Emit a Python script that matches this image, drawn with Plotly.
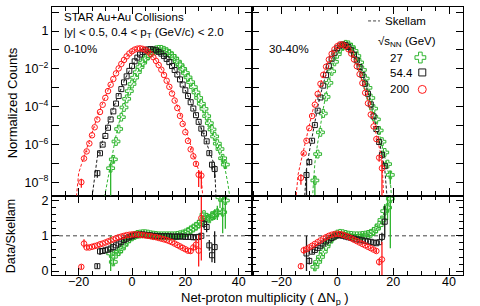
import plotly.graph_objects as go

# ---------------- data ----------------
# Each series: first net-proton bin, Skellam reference (log10 of normalized counts),
# measured Data/Skellam ratio and its error (None = no measured point in that bin).

# 0-10% centrality
c010_200_x0 = -21
c010_200_skellam_log = [-9.0, -7.51, -7.07, -6.63, -6.19, -5.77, -5.35, -4.94, -4.54, -4.16, -3.79, -3.44,
                        -3.10, -2.78, -2.49, -2.21, -1.96, -1.73, -1.53, -1.35, -1.20, -1.09, -1.00, -0.95,
                        -0.93, -0.95, -1.00, -1.09, -1.22, -1.37, -1.56, -1.77, -2.01, -2.28, -2.57, -2.88,
                        -3.22, -3.57, -3.94, -4.33, -4.73, -5.14, -5.57, -6.01, -6.45, -6.90, -7.36, -7.82, -9.5]
c010_200_ratio = [None, None, 0.12, 0.78, 0.67, 0.67, 0.69, 0.71, 0.73, 0.76, 0.78, 0.81, 0.84, 0.87, 0.90,
                  0.93, 0.96, 0.98, 1.00, 1.02, 1.03, 1.04, 1.04, 1.04, 1.03, 1.02, 1.01, 1.00, 0.99, 0.97,
                  0.96, 0.94, 0.92, 0.90, 0.88, 0.85, 0.82, 0.78, 0.74, 0.70, 0.66, 0.62, 0.58, 0.57, 0.67,
                  0.75, 0.58, 1.50, None]
c010_200_err = [None, None, 0.06, 0.12, 0.06, 0.04, 0.03, 0.02, 0.02, 0.01, 0.01, 0.01, 0.01, 0.01, 0.01,
                0.01, 0.01, 0.01, 0.01, 0.01, 0.01, 0.01, 0.01, 0.01, 0.01, 0.01, 0.01, 0.01, 0.01, 0.01,
                0.01, 0.01, 0.01, 0.01, 0.01, 0.01, 0.01, 0.02, 0.02, 0.03, 0.03, 0.04, 0.05, 0.07, 0.09,
                0.15, 0.45, 1.20, None]

c010_544_x0 = -15
c010_544_skellam_log = [-8.8, -7.6, -6.66, -6.21, -5.76, -5.32, -4.90, -4.48, -4.08, -3.70, -3.33, -2.99,
                        -2.66, -2.36, -2.09, -1.84, -1.61, -1.42, -1.26, -1.13, -1.04, -0.98, -0.96, -0.98,
                        -1.02, -1.10, -1.19, -1.32, -1.47, -1.64, -1.84, -2.05, -2.29, -2.55, -2.82, -3.12,
                        -3.42, -3.75, -4.08, -4.43, -4.79, -5.16, -5.54, -5.93, -6.32, -6.72, -7.13, -10.5]
c010_544_ratio = [None, None, 0.14, 0.56, 0.57, 0.59, 0.61, 0.64, 0.68, 0.73, 0.78, 0.83, 0.88, 0.92, 0.96,
                  0.99, 1.02, 1.03, 1.04, 1.04, 1.03, 1.02, 1.01, 1.00, 1.00, 0.99, 0.99, 0.99, 0.99, 0.99,
                  0.98, 0.98, 0.98, 0.98, 0.98, 0.97, 0.97, 0.97, 0.96, 0.96, 0.97, 1.00, 1.34, 1.25, 0.73,
                  0.45, 0.68, None]
c010_544_err = [None, None, 0.06, 0.10, 0.05, 0.04, 0.03, 0.02, 0.01, 0.01, 0.01, 0.01, 0.01, 0.01, 0.01,
                0.01, 0.01, 0.01, 0.01, 0.01, 0.01, 0.01, 0.01, 0.01, 0.01, 0.01, 0.01, 0.01, 0.01, 0.01,
                0.01, 0.01, 0.01, 0.01, 0.01, 0.01, 0.02, 0.02, 0.03, 0.04, 0.08, 0.10, 0.12, 0.15, 0.15,
                0.20, 0.45, None]

c010_27_x0 = -11
c010_27_skellam_log = [-9.3, -8.5, -7.75, -6.95, -6.20, -5.52, -4.92, -4.36, -3.91, -3.51, -3.14, -2.79,
                       -2.47, -2.19, -1.93, -1.70, -1.49, -1.32, -1.17, -1.07, -1.00, -0.97, -0.97, -1.02,
                       -1.09, -1.18, -1.31, -1.45, -1.62, -1.81, -2.02, -2.25, -2.50, -2.77, -3.05, -3.35,
                       -3.66, -3.99, -4.32, -4.68, -5.04, -5.40, -5.78, -6.17, -6.56, -6.95, -7.36, -8.1, -9.1]
c010_27_ratio = [None, None, None, 0.50, 0.26, 0.48, 0.55, 0.64, 0.74, 0.84, 0.92, 0.97, 1.01, 1.04, 1.05,
                 1.06, 1.06, 1.05, 1.03, 1.02, 1.01, 1.00, 1.00, 1.00, 1.00, 1.00, 1.00, 1.00, 1.01, 1.03,
                 1.05, 1.08, 1.12, 1.17, 1.22, 1.27, 1.33, 1.40, 1.60, 1.52, 1.48, 1.57, 1.60, 1.65, 2.09,
                 1.67, 2.00, None, None]
c010_27_err = [None, None, None, 0.50, 0.10, 0.06, 0.04, 0.03, 0.02, 0.02, 0.01, 0.01, 0.01, 0.01, 0.01,
               0.01, 0.01, 0.01, 0.01, 0.01, 0.01, 0.01, 0.01, 0.01, 0.01, 0.01, 0.01, 0.01, 0.01, 0.01,
               0.01, 0.01, 0.02, 0.02, 0.03, 0.03, 0.04, 0.05, 0.07, 0.08, 0.10, 0.12, 0.15, 0.20, 0.30,
               0.60, 0.80, None, None]

# 30-40% centrality
c3040_200_x0 = -15
c3040_200_skellam_log = [-9.2, -7.58, -6.91, -6.24, -5.59, -4.96, -4.35, -3.78, -3.24, -2.73, -2.28, -1.87,
                         -1.51, -1.22, -0.99, -0.83, -0.73, -0.73, -0.80, -0.95, -1.16, -1.45, -1.79, -2.19,
                         -2.64, -3.13, -3.66, -4.23, -4.83, -5.47, -6.11, -6.77, -10.0]
c3040_200_ratio = [None, None, 0.14, 0.59, 0.62, 0.67, 0.72, 0.77, 0.82, 0.87, 0.92, 0.96, 1.00, 1.03, 1.05,
                   1.06, 1.05, 1.03, 1.00, 0.97, 0.93, 0.89, 0.85, 0.81, 0.77, 0.73, 0.69, 0.65, 0.61, 0.57,
                   0.26, 0.33, None]
c3040_200_err = [None, None, 0.08, 0.10, 0.05, 0.04, 0.03, 0.02, 0.01, 0.01, 0.01, 0.01, 0.01, 0.01, 0.01,
                 0.01, 0.01, 0.01, 0.01, 0.01, 0.01, 0.01, 0.01, 0.01, 0.01, 0.02, 0.02, 0.03, 0.04, 0.06,
                 0.10, 0.50, None]

c3040_544_x0 = -12
c3040_544_skellam_log = [-9.5, -7.31, -6.39, -5.54, -4.75, -4.03, -3.37, -2.78, -2.26, -1.81, -1.44, -1.14,
                         -0.92, -0.78, -0.72, -0.74, -0.83, -0.99, -1.22, -1.51, -1.85, -2.26, -2.72, -3.24,
                         -3.80, -4.42, -5.08, -5.78, -6.53, -7.29, -9.1]
c3040_544_ratio = [None, 0.50, 0.29, 0.55, 0.60, 0.66, 0.72, 0.78, 0.84, 0.89, 0.94, 0.98, 1.01, 1.02, 1.00,
                   0.98, 0.96, 0.94, 0.92, 0.90, 0.89, 0.87, 0.86, 0.84, 0.83, 0.81, 0.79, 0.82, 0.97, 1.40,
                   None]
c3040_544_err = [None, 0.50, 0.10, 0.06, 0.04, 0.03, 0.02, 0.01, 0.01, 0.01, 0.01, 0.01, 0.01, 0.01, 0.01,
                 0.01, 0.01, 0.01, 0.01, 0.01, 0.01, 0.01, 0.01, 0.01, 0.02, 0.02, 0.03, 0.05, 0.12, 0.45,
                 None]

c3040_27_x0 = -9
c3040_27_skellam_log = [-9.1, -6.98, -5.92, -4.96, -4.10, -3.33, -2.66, -2.10, -1.63, -1.25, -0.98, -0.80,
                        -0.72, -0.74, -0.85, -1.05, -1.32, -1.66, -2.06, -2.52, -3.02, -3.57, -4.15, -4.75,
                        -5.37, -6.01, -6.65, -7.29, -7.92, -10.0]
c3040_27_ratio = [None, 0.12, 0.26, 0.40, 0.55, 0.70, 0.83, 0.93, 1.00, 1.05, 1.07, 1.06, 1.04, 1.02, 1.01,
                  1.00, 1.00, 1.00, 1.01, 1.02, 1.04, 1.07, 1.12, 1.20, 1.30, 1.45, 1.70, 1.80, 2.05, None]
c3040_27_err = [None, 0.10, 0.05, 0.04, 0.03, 0.02, 0.01, 0.01, 0.01, 0.01, 0.01, 0.01, 0.01, 0.01, 0.01,
                0.01, 0.01, 0.01, 0.01, 0.01, 0.01, 0.01, 0.02, 0.03, 0.05, 0.10, 0.20, 0.35, 1.40, None]

energies = ["27", "54.4", "200"]
centralities = ["0-10%", "30-40%"]
x_ticks = [-20, 0, 20, 40]

# ---------------- styles ----------------
FONT = "Liberation Sans, Arial, Helvetica, sans-serif"
STYLE = {
    "27": dict(color="#2fb52f", symbol="cross-open", size=6.5, key=9),
    "54.4": dict(color="#1a1a1a", symbol="square-open", size=5, key=7),
    "200": dict(color="#ff1a1a", symbol="circle-open", size=5.5, key=8),
}
series = {
    ("0-10%", "27"): (c010_27_x0, c010_27_skellam_log, c010_27_ratio, c010_27_err),
    ("0-10%", "54.4"): (c010_544_x0, c010_544_skellam_log, c010_544_ratio, c010_544_err),
    ("0-10%", "200"): (c010_200_x0, c010_200_skellam_log, c010_200_ratio, c010_200_err),
    ("30-40%", "27"): (c3040_27_x0, c3040_27_skellam_log, c3040_27_ratio, c3040_27_err),
    ("30-40%", "54.4"): (c3040_544_x0, c3040_544_skellam_log, c3040_544_ratio, c3040_544_err),
    ("30-40%", "200"): (c3040_200_x0, c3040_200_skellam_log, c3040_200_ratio, c3040_200_err),
}
# axes ids: (top, bottom) per centrality
AXES = {"0-10%": (("x3", "y3"), ("x", "y")), "30-40%": (("x4", "y4"), ("x2", "y2"))}

fig = go.Figure()

for cent in centralities:
    (tx, ty), (bx, by) = AXES[cent]
    for en in energies:
        x0, sk, ratio, err = series[(cent, en)]
        st = STYLE[en]
        xs = list(range(x0, x0 + len(sk)))
        sk_y = [10 ** s for s in sk]
        # Skellam reference (dashed)
        fig.add_trace(go.Scatter(x=xs, y=sk_y, mode="lines", xaxis=tx, yaxis=ty,
                                 line=dict(color=st["color"], width=1, dash="3px,2px"),
                                 hoverinfo="skip"))
        px, py, pe, pm, rr, re = [], [], [], [], [], []
        for x, s, r, e in zip(xs, sk_y, ratio, err):
            if r is None:
                continue
            y = s * r
            px.append(x)
            py.append(y)
            pe.append(s * e)
            pm.append(min(s * e, 0.9999 * y))
            rr.append(r)
            re.append(e)
        mk = dict(symbol=st["symbol"], size=st["size"], color=st["color"], line=dict(width=1, color=st["color"]))
        fig.add_trace(go.Scatter(x=px, y=py, mode="markers", xaxis=tx, yaxis=ty, marker=mk,
                                 error_y=dict(type="data", symmetric=False, array=pe, arrayminus=pm,
                                              width=0, thickness=1.3, color=st["color"])))
        fig.add_trace(go.Scatter(x=px, y=rr, mode="markers", xaxis=bx, yaxis=by, marker=mk,
                                 error_y=dict(type="data", array=re, width=0, thickness=1.3,
                                              color=st["color"])))

# legend keys (positioned in the top-right panel's unit square)
LEG_KEYS = {"27": (0.798, 0.732), "54.4": (0.807, 0.653), "200": (0.807, 0.563)}
for en in energies:
    st = STYLE[en]
    fig.add_trace(go.Scatter(x=[LEG_KEYS[en][0]], y=[LEG_KEYS[en][1]], mode="markers",
                             xaxis="x5", yaxis="y5",
                             marker=dict(symbol=st["symbol"], size=st["key"], color=st["color"],
                                         line=dict(width=1, color=st["color"]))))

# ---------------- layout ----------------
XL = [0, 0.4866]
XR = [0.4866, 1]
YB = [0, 0.2963]
YT = [0.2963, 1]

base = dict(showline=True, linecolor="black", linewidth=1.3, mirror="allticks", ticks="inside",
            ticklen=7, tickwidth=1, tickcolor="black", showgrid=False, zeroline=False,
            tickfont=dict(family=FONT, size=12.5, color="black"))
xminor = dict(dtick=5, tick0=0, ticks="inside", ticklen=4, tickcolor="black", showgrid=False)
yminor = dict(dtick=0.2, tick0=0, ticks="inside", ticklen=4, tickcolor="black", showgrid=False)

log_vals = [10.0 ** k for k in (0, -2, -4, -6, -8)]
log_text = ["1", "10<sup>\u22122</sup>", "10<sup>\u22124</sup>", "10<sup>\u22126</sup>", "10<sup>\u22128</sup>"]
log_minor = dict(tickmode="array", tickvals=[10.0 ** k for k in (1, -1, -3, -5, -7)],
                 ticks="inside", ticklen=7, tickcolor="black", showgrid=False)

fig.update_layout(
    width=480, height=306,
    margin=dict(l=52, r=17, t=5, b=31),
    paper_bgcolor="white", plot_bgcolor="rgba(0,0,0,0)",
    showlegend=False,
    font=dict(family=FONT, size=12, color="black"),
    xaxis=dict(base, domain=XL, anchor="y", range=[-30, 45], tickvals=x_ticks, minor=xminor,
               ticklabelstandoff=-5),
    yaxis=dict(base, domain=YB, anchor="x", range=[-0.11, 2.14], dtick=1, tick0=0, minor=yminor),
    xaxis2=dict(base, domain=XR, anchor="y2", range=[-30.5, 45], tickvals=x_ticks, minor=xminor,
                ticklabelstandoff=-5),
    yaxis2=dict(base, domain=YB, anchor="x2", range=[-0.11, 2.14], dtick=1, tick0=0, minor=yminor,
                showticklabels=False),
    xaxis3=dict(base, domain=XL, anchor="y3", range=[-30, 45], tickvals=x_ticks, minor=xminor,
                showticklabels=False),
    yaxis3=dict(base, domain=YT, anchor="x3", type="log", range=[-8.7, 1.27],
                tickmode="array", tickvals=log_vals, ticktext=log_text, minor=log_minor),
    xaxis4=dict(base, domain=XR, anchor="y4", range=[-30.5, 45], tickvals=x_ticks, minor=xminor,
                showticklabels=False),
    yaxis4=dict(base, domain=YT, anchor="x4", type="log", range=[-8.7, 1.27],
                tickmode="array", tickvals=log_vals, ticktext=log_text, minor=log_minor,
                showticklabels=False),
    xaxis5=dict(overlaying="x4", anchor="y5", range=[0, 1], visible=False),
    yaxis5=dict(overlaying="y4", anchor="x5", range=[0, 1], visible=False),
)

# reference line at ratio 1 across both lower panels
fig.add_shape(type="line", xref="paper", yref="y", x0=0, x1=1, y0=1, y1=1,
              line=dict(color="#444444", width=1, dash="4px,3px"), layer="below")
# Skellam legend key line
fig.add_shape(type="line", xref="paper", yref="paper", x0=0.769, x1=0.798, y0=0.948, y1=0.948,
              line=dict(color="#444444", width=1, dash="3px,2px"))


def px2paper(xp, yp):
    return (xp - 52) / 411.0, (275 - yp) / 270.0


def note(text, xp, yp, size=11.5, xanchor="left", angle=0):
    x, y = px2paper(xp, yp)
    fig.add_annotation(text=text, x=x, y=y, xref="paper", yref="paper", showarrow=False,
                       xanchor=xanchor, yanchor="middle", textangle=angle,
                       font=dict(family=FONT, size=size, color="black"))


note("STAR Au+Au Collisions", 62, 15)
note("|y| < 0.5, 0.4 < p<sub>T</sub> (GeV/c) < 2.0", 62, 31)
note(centralities[0], 62, 47)
note(centralities[1], 267, 47)
note("Skellam", 383, 19)
note("\u221as<sub>NN</sub> (GeV)", 376, 40)
note(energies[0], 388, 56)
note(energies[1], 388, 71)
note(energies[2], 388, 88)
note("Normalized Counts", 12, 102, size=13, xanchor="center", angle=-90)
note("Data/Skellam", 11, 236, size=12.5, xanchor="center", angle=-90)
note("Net-proton multiplicity ( \u0394N<sub>p</sub> )", 265, 299, size=13, xanchor="center")

fig.write_html("out.html", config={"displayModeBar": False},
               post_script="document.body.style.margin='0px';")
